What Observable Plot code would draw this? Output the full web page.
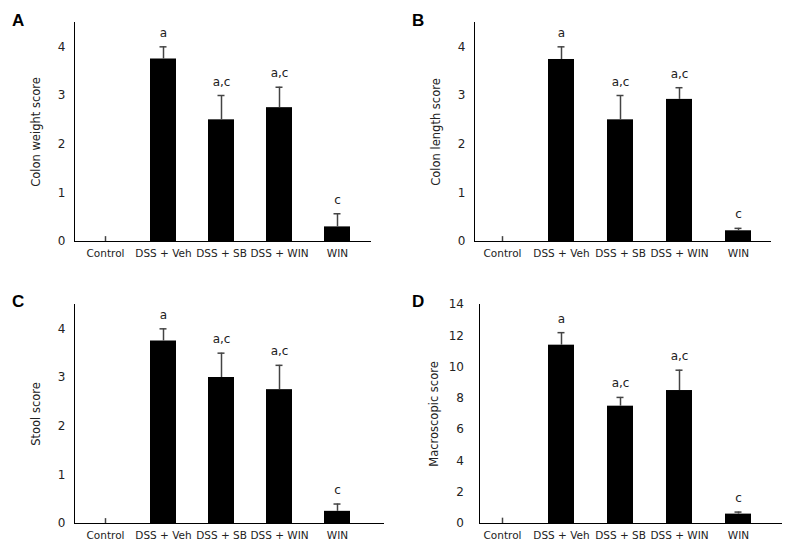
<!DOCTYPE html>
<html>
<head>
<meta charset="utf-8">
<script src="https://cdn.jsdelivr.net/npm/d3@7"></script>
<script src="https://cdn.jsdelivr.net/npm/@observablehq/plot@0.6"></script>
<style>
  body { margin: 0; background: #fff; }
  #wrap { position: relative; width: 800px; height: 555px; overflow: hidden; font-family: "DejaVu Sans", sans-serif; }
  .panel { position: absolute; width: 400px; }
  .letter { position: absolute; font-family: "Liberation Sans", Arial, sans-serif; font-weight: bold; font-size: 17px; color: #000; }
</style>
</head>
<body>
<div id="wrap"></div>
<script>
// ---- data ----
const groups = ["Control", "DSS + Veh", "DSS + SB", "DSS + WIN", "WIN"];
const sigLabels = ["", "a", "a,c", "a,c", "c"];

const weightMean = [0, 3.75, 2.5, 2.75, 0.3];
const weightErr  = [0.1, 0.25, 0.5, 0.42, 0.27];

const lengthMean = [0, 3.74, 2.5, 2.92, 0.22];
const lengthErr  = [0.1, 0.26, 0.5, 0.24, 0.05];

const stoolMean = [0, 3.75, 3.0, 2.75, 0.25];
const stoolErr  = [0.1, 0.25, 0.5, 0.5, 0.15];

const macroMean = [0, 11.4, 7.5, 8.5, 0.6];
const macroErr  = [0.34, 0.8, 0.56, 1.3, 0.13];

const yTicks4 = [0, 1, 2, 3, 4];
const yTicks14 = [0, 2, 4, 6, 8, 10, 12, 14];

// ---- layout (positions/styles only) ----
const panels = [
  {letter: "A", label: "Colon weight score", mean: weightMean, err: weightErr, ymax: 4.5, ticks: yTicks4,
   left: 0, top: 0, ml: 74, mr: 29, xr: [74, 368.5], tp: 9, lx: 36},
  {letter: "B", label: "Colon length score", mean: lengthMean, err: lengthErr, ymax: 4.5, ticks: yTicks4,
   left: 400, top: 0, ml: 74, mr: 29, xr: [72, 367.5], tp: 9, lx: 36},
  {letter: "C", label: "Stool score", mean: stoolMean, err: stoolErr, ymax: 4.5, ticks: yTicks4,
   left: 0, top: 282, ml: 74, mr: 16, xr: [74, 368.5], tp: 9, lx: 36},
  {letter: "D", label: "Macroscopic score", mean: macroMean, err: macroErr, ymax: 14, ticks: yTicks14,
   left: 400, top: 282, ml: 79, mr: 18, xr: [72, 367.5], tp: 15.5, lx: 33.5}
];

const wrap = document.getElementById("wrap");

for (const p of panels) {
  const data = groups.map((g, i) => ({group: g, mean: p.mean[i], err: p.err[i], top: p.mean[i] + p.err[i], sig: sigLabels[i]}));
  const chart = Plot.plot({
    width: 400,
    height: 278,
    marginTop: 22,
    marginBottom: 37,
    marginLeft: p.ml,
    marginRight: p.mr,
    style: {fontFamily: "DejaVu Sans, sans-serif", fontSize: "11px", color: "#222", background: "transparent"},
    x: {type: "band", domain: groups, range: p.xr, paddingInner: 0.56, paddingOuter: 0.28},
    y: {domain: [0, p.ymax]},
    marks: [
      Plot.barY(data, {x: "group", y: "mean", fill: "#000"}),
      Plot.ruleX(data, {x: "group", y1: "mean", y2: "top", stroke: "#444", strokeWidth: 1.5}),
      Plot.tickY(data.filter(d => d.mean > 0), {x: "group", y: "top", stroke: "#444", strokeWidth: 1.5, inset: 9.5}),
      Plot.text(data, {x: "group", y: "top", text: "sig", dy: -10, lineAnchor: "bottom", fontSize: 12, fill: "#222"}),
      Plot.axisY({ticks: p.ticks, tickFormat: d => String(d), tickSize: 0, tickPadding: p.tp, label: null, fontSize: 12}),
      Plot.axisX({tickSize: 0, tickPadding: 8, label: null, fontSize: 10.5}),
      Plot.frame({anchor: "left", stroke: "#000"}),
      Plot.ruleY([0], {stroke: "#000"}),
      Plot.text([p.label], {frameAnchor: "left", dx: p.lx - p.ml, rotate: -90, textAnchor: "middle", lineAnchor: "middle", fontSize: 11.5, fill: "#222"})
    ]
  });
  const div = document.createElement("div");
  div.className = "panel";
  div.style.left = p.left + "px";
  div.style.top = p.top + "px";
  div.appendChild(chart);
  wrap.appendChild(div);

  const L = document.createElement("div");
  L.className = "letter";
  L.textContent = p.letter;
  L.style.left = (p.left + 12) + "px";
  L.style.top = (p.top + (p.top ? 10 : 11)) + "px";
  wrap.appendChild(L);
}
</script>
</body>
</html>
